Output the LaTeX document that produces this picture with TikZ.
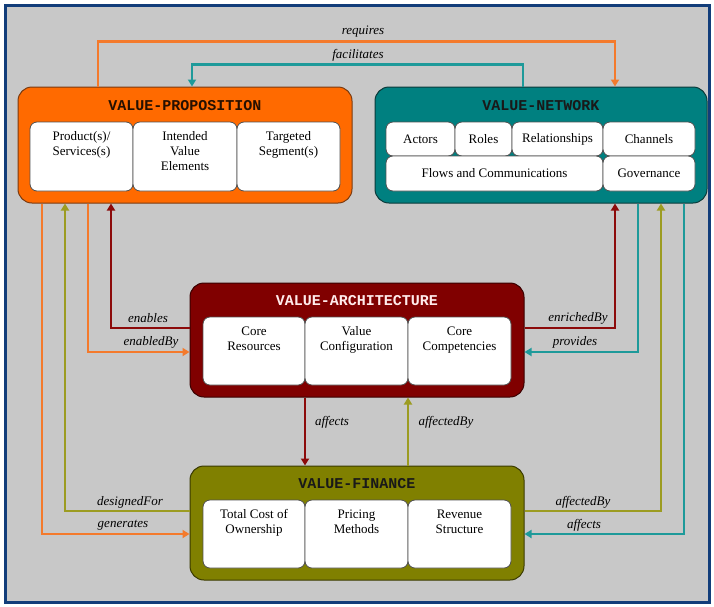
\documentclass[tikz,border=0pt]{standalone}
\usepackage{fontspec}
\setmainfont{Liberation Serif}
\newfontfamily\titlefont{Liberation Mono}
\usetikzlibrary{arrows.meta}
\definecolor{bg}{HTML}{C8C8C8}
\definecolor{frame}{HTML}{123D7A}
\definecolor{vpfill}{HTML}{FF6A00}
\definecolor{vpline}{HTML}{7A3A10}
\definecolor{vnfill}{HTML}{008080}
\definecolor{vnline}{HTML}{0A3A3A}
\definecolor{vafill}{HTML}{800000}
\definecolor{valine}{HTML}{3A0000}
\definecolor{vffill}{HTML}{808000}
\definecolor{vfline}{HTML}{3A3A00}
\definecolor{boxline}{HTML}{505050}
\definecolor{corange}{HTML}{F47A2C}
\definecolor{cteal}{HTML}{1E9A9A}
\definecolor{cdred}{HTML}{8C0A0A}
\definecolor{colive}{HTML}{9C9C22}
\begin{document}
\begin{tikzpicture}[x=1pt,y=-1pt,
  outer/.style={rounded corners=14pt, line width=1pt, minimum width=334pt, minimum height=116pt, inner sep=0},
  inbox/.style={draw=boxline, fill=white, rounded corners=7pt, line width=0.8pt, inner sep=0},
  ttl/.style={font=\titlefont\bfseries\fontsize{15}{15}\selectfont, inner sep=0},
  itxt/.style={font=\fontsize{13}{15}\selectfont, align=center, inner sep=0},
  tbox/.style={inbox, minimum height=68pt, label={[itxt, anchor=north, yshift=-8.5pt]north:\strut #1}},
  lbl/.style={font=\itshape\fontsize{13}{15}\selectfont, inner sep=0},
  conn/.style={line width=2.4pt, -{Triangle[length=7pt,width=8pt]}},
]
\useasboundingbox (0,0) rectangle (714,606);
\draw[line width=3pt, draw=frame, fill=bg] (5.5,5.5) rectangle (709.5,602);

% outer boxes
\node[outer, fill=vpfill, draw=vpline] (vp) at (185,145) {};
\node[outer, fill=vnfill, draw=vnline, minimum width=332pt] (vn) at (541,145) {};
\node[outer, fill=vafill, draw=valine, minimum height=114pt] (va) at (357,340) {};
\node[outer, fill=vffill, draw=vfline, minimum height=114pt] (vf) at (357,523) {};

% titles
\node[ttl, text=black!85!vpfill] (vpt) at (185,106) {VALUE-PROPOSITION};
\node[ttl, text=black!90] (vnt) at (541,106) {VALUE-NETWORK};
\node[ttl, text=white!92!red] (vat) at (357,301) {VALUE-ARCHITECTURE};
\node[ttl, text=black!90] (vft) at (357,484) {VALUE-FINANCE};

% value proposition inner boxes
\node[tbox={Product(s)/\\Services(s)}, minimum width=103pt, minimum height=69pt] (p1) at (81.5,156.5) {};
\node[tbox={Intended\\Value\\Elements}, minimum width=104pt, minimum height=69pt] (p2) at (185,156.5) {};
\node[tbox={Targeted\\Segment(s)}, minimum width=103pt, minimum height=69pt] (p3) at (288.5,156.5) {};

% value network inner boxes
\node[inbox, itxt, minimum width=69pt, minimum height=34pt] (n1) at (420.5,139) {Actors};
\node[inbox, itxt, minimum width=57pt, minimum height=34pt] (n2) at (483.5,139) {Roles};
\node[inbox, itxt, minimum width=91pt, minimum height=34pt] (n3) at (557.5,139) {Relationships};
\node[inbox, itxt, minimum width=92pt, minimum height=34pt] (n4) at (649,139) {Channels};
\node[inbox, itxt, minimum width=217pt, minimum height=35pt] (n5) at (494.5,173.5) {Flows and Communications};
\node[inbox, itxt, minimum width=92pt, minimum height=35pt] (n6) at (649,173.5) {Governance};

% value architecture inner boxes
\node[tbox={Core\\Resources}, minimum width=102pt] (a1) at (254,351) {};
\node[tbox={Value\\Configuration}, minimum width=103pt] (a2) at (356.5,351) {};
\node[tbox={Core\\Competencies}, minimum width=103pt] (a3) at (459.5,351) {};

% value finance inner boxes
\node[tbox={Total Cost of\\Ownership}, minimum width=102pt] (f1) at (254,534) {};
\node[tbox={Pricing\\Methods}, minimum width=103pt] (f2) at (356.5,534) {};
\node[tbox={Revenue\\Structure}, minimum width=103pt] (f3) at (459.5,534) {};

% connectors
\draw[conn, corange] (vp.north -| 98,0) -- ++(0,-45) -| (vn.north -| 615,0);
\draw[conn, cteal] (vn.north -| 523,0) -- ++(0,-22) -| (vp.north -| 192,0);
\draw[conn, cdred] (va.west |- 0,328) -| (vp.south -| 111,0);
\draw[conn, corange] (vp.south -| 88,0) |- (va.west |- 0,352);
\draw[conn, colive] (vf.west |- 0,511) -| (vp.south -| 65,0);
\draw[conn, corange] (vp.south -| 42,0) |- (vf.west |- 0,534);
\draw[conn, cdred] (va.east |- 0,328) -| (vn.south -| 615,0);
\draw[conn, cteal] (vn.south -| 638,0) |- (va.east |- 0,352);
\draw[conn, colive] (vf.east |- 0,511) -| (vn.south -| 661,0);
\draw[conn, cteal] (vn.south -| 684,0) |- (vf.east |- 0,534);
\draw[conn, cdred] (va.south -| 305,0) -- (vf.north -| 305,0);
\draw[conn, colive] (vf.north -| 408,0) -- (va.south -| 408,0);

% labels
\node[lbl] (l1) at (363,32) {requires};
\node[lbl] (l2) at (358,55) {facilitates};
\node[lbl] (l3) at (148,318) {enables};
\node[lbl] (l4) at (151,342) {enabledBy};
\node[lbl] (l5) at (578,318) {enrichedBy};
\node[lbl] (l6) at (575,342) {provides};
\node[lbl] (l7) at (332,422) {affects};
\node[lbl] (l8) at (446,422) {affectedBy};
\node[lbl] (l9) at (130,502) {designedFor};
\node[lbl] (l10) at (123,525) {generates};
\node[lbl] (l11) at (583,502) {affectedBy};
\node[lbl] (l12) at (584,525) {affects};
\end{tikzpicture}
\end{document}
